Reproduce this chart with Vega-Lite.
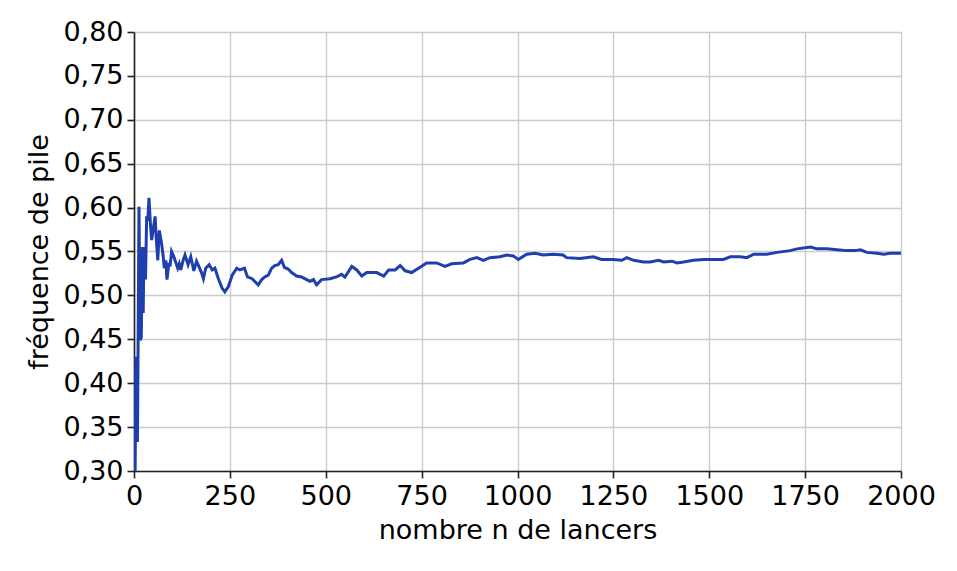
{
  "$schema": "https://vega.github.io/schema/vega-lite/v6.json",
  "width": 767,
  "height": 439,
  "autosize": {"type": "none"},
  "padding": {"left": 134, "top": 32, "right": 56, "bottom": 100},
  "background": "white",
  "config": {
    "view": {"stroke": null},
    "font": "DejaVu Sans"
  },
  "data": {
    "values": [
      {"n": 1, "f": 0.300}, {"n": 3, "f": 0.301}, {"n": 5, "f": 0.430}, {"n": 9, "f": 0.333},
      {"n": 13, "f": 0.601}, {"n": 16, "f": 0.449}, {"n": 19, "f": 0.452}, {"n": 22, "f": 0.555},
      {"n": 24, "f": 0.480}, {"n": 26, "f": 0.555}, {"n": 30, "f": 0.518}, {"n": 33, "f": 0.590},
      {"n": 36, "f": 0.585}, {"n": 39, "f": 0.611}, {"n": 43, "f": 0.580}, {"n": 46, "f": 0.563},
      {"n": 50, "f": 0.575}, {"n": 55, "f": 0.590}, {"n": 58, "f": 0.565}, {"n": 62, "f": 0.540},
      {"n": 66, "f": 0.574}, {"n": 72, "f": 0.559}, {"n": 76, "f": 0.545}, {"n": 79, "f": 0.531},
      {"n": 83, "f": 0.540}, {"n": 86, "f": 0.518}, {"n": 91, "f": 0.537}, {"n": 94, "f": 0.533},
      {"n": 98, "f": 0.550}, {"n": 103, "f": 0.545}, {"n": 107, "f": 0.540}, {"n": 114, "f": 0.531},
      {"n": 118, "f": 0.536}, {"n": 122, "f": 0.529}, {"n": 128, "f": 0.540}, {"n": 133, "f": 0.546},
      {"n": 141, "f": 0.535}, {"n": 148, "f": 0.544}, {"n": 152, "f": 0.536}, {"n": 156, "f": 0.528},
      {"n": 163, "f": 0.539}, {"n": 171, "f": 0.531}, {"n": 176, "f": 0.526}, {"n": 181, "f": 0.519},
      {"n": 187, "f": 0.531}, {"n": 196, "f": 0.535}, {"n": 204, "f": 0.529}, {"n": 211, "f": 0.531},
      {"n": 220, "f": 0.519}, {"n": 230, "f": 0.508}, {"n": 237, "f": 0.504}, {"n": 246, "f": 0.510},
      {"n": 256, "f": 0.523}, {"n": 268, "f": 0.531}, {"n": 276, "f": 0.529}, {"n": 288, "f": 0.531},
      {"n": 296, "f": 0.521}, {"n": 308, "f": 0.519}, {"n": 317, "f": 0.515}, {"n": 324, "f": 0.512},
      {"n": 333, "f": 0.518}, {"n": 341, "f": 0.521}, {"n": 350, "f": 0.523}, {"n": 359, "f": 0.531},
      {"n": 367, "f": 0.534}, {"n": 376, "f": 0.535}, {"n": 385, "f": 0.540}, {"n": 392, "f": 0.532},
      {"n": 402, "f": 0.530}, {"n": 411, "f": 0.526}, {"n": 424, "f": 0.522}, {"n": 437, "f": 0.521},
      {"n": 450, "f": 0.518}, {"n": 459, "f": 0.516}, {"n": 468, "f": 0.518}, {"n": 476, "f": 0.512},
      {"n": 489, "f": 0.518}, {"n": 511, "f": 0.519}, {"n": 528, "f": 0.521}, {"n": 541, "f": 0.524},
      {"n": 550, "f": 0.521}, {"n": 568, "f": 0.533}, {"n": 581, "f": 0.529}, {"n": 594, "f": 0.522},
      {"n": 607, "f": 0.526}, {"n": 633, "f": 0.526}, {"n": 651, "f": 0.522}, {"n": 664, "f": 0.529},
      {"n": 681, "f": 0.529}, {"n": 694, "f": 0.534}, {"n": 707, "f": 0.528}, {"n": 724, "f": 0.526},
      {"n": 746, "f": 0.532}, {"n": 763, "f": 0.537}, {"n": 789, "f": 0.537}, {"n": 811, "f": 0.533},
      {"n": 828, "f": 0.536}, {"n": 859, "f": 0.537}, {"n": 876, "f": 0.541}, {"n": 894, "f": 0.543},
      {"n": 911, "f": 0.540}, {"n": 928, "f": 0.543}, {"n": 954, "f": 0.544}, {"n": 972, "f": 0.546},
      {"n": 989, "f": 0.545}, {"n": 1002, "f": 0.541}, {"n": 1024, "f": 0.547}, {"n": 1046, "f": 0.548},
      {"n": 1067, "f": 0.546}, {"n": 1093, "f": 0.547}, {"n": 1119, "f": 0.546}, {"n": 1128, "f": 0.543},
      {"n": 1163, "f": 0.542}, {"n": 1198, "f": 0.544}, {"n": 1219, "f": 0.541}, {"n": 1250, "f": 0.541},
      {"n": 1272, "f": 0.540}, {"n": 1285, "f": 0.543}, {"n": 1303, "f": 0.540}, {"n": 1329, "f": 0.538},
      {"n": 1346, "f": 0.538}, {"n": 1368, "f": 0.540}, {"n": 1381, "f": 0.538}, {"n": 1403, "f": 0.539},
      {"n": 1416, "f": 0.537}, {"n": 1433, "f": 0.538}, {"n": 1459, "f": 0.540}, {"n": 1485, "f": 0.541},
      {"n": 1511, "f": 0.541}, {"n": 1537, "f": 0.541}, {"n": 1555, "f": 0.544}, {"n": 1581, "f": 0.544},
      {"n": 1598, "f": 0.543}, {"n": 1616, "f": 0.547}, {"n": 1650, "f": 0.547}, {"n": 1677, "f": 0.549},
      {"n": 1711, "f": 0.551}, {"n": 1729, "f": 0.553}, {"n": 1764, "f": 0.555}, {"n": 1781, "f": 0.553},
      {"n": 1807, "f": 0.553}, {"n": 1833, "f": 0.552}, {"n": 1859, "f": 0.551}, {"n": 1881, "f": 0.551},
      {"n": 1894, "f": 0.552}, {"n": 1911, "f": 0.549}, {"n": 1937, "f": 0.548}, {"n": 1955, "f": 0.547},
      {"n": 1972, "f": 0.548}, {"n": 2000, "f": 0.548}
    ]
  },
  "mark": {"type": "line", "color": "#1f3fae", "strokeWidth": 3, "clip": true},
  "encoding": {
    "x": {
      "field": "n", "type": "quantitative",
      "scale": {"domain": [0, 2000], "nice": false, "zero": false},
      "axis": {
        "title": "nombre n de lancers",
        "values": [0, 250, 500, 750, 1000, 1250, 1500, 1750, 2000],
        "format": "d",
        "labelFont": "DejaVu Sans", "labelFontSize": 27, "labelColor": "black",
        "labelPadding": 5, "labelFlush": false,
        "titleFont": "DejaVu Sans", "titleFontSize": 27, "titleFontWeight": "normal", "titleColor": "black",
        "titlePadding": 8,
        "domainColor": "#222", "domainWidth": 1.6,
        "tickColor": "#222", "tickWidth": 1.6, "tickSize": 7,
        "gridColor": "#cccccc", "gridWidth": 1.4
      }
    },
    "y": {
      "field": "f", "type": "quantitative",
      "scale": {"domain": [0.3, 0.8], "nice": false, "zero": false},
      "axis": {
        "title": "fréquence de pile",
        "values": [0.3, 0.35, 0.4, 0.45, 0.5, 0.55, 0.6, 0.65, 0.7, 0.75, 0.8],
        "labelExpr": "replace(format(datum.value, '.2f'), '.', ',')",
        "labelFont": "DejaVu Sans", "labelFontSize": 27, "labelColor": "black",
        "labelPadding": 4, "labelFlush": false,
        "titleFont": "DejaVu Sans", "titleFontSize": 27, "titleFontWeight": "normal", "titleColor": "black",
        "titlePadding": 9,
        "domainColor": "#222", "domainWidth": 1.6,
        "tickColor": "#222", "tickWidth": 1.6, "tickSize": 7,
        "gridColor": "#cccccc", "gridWidth": 1.4
      }
    }
  }
}
